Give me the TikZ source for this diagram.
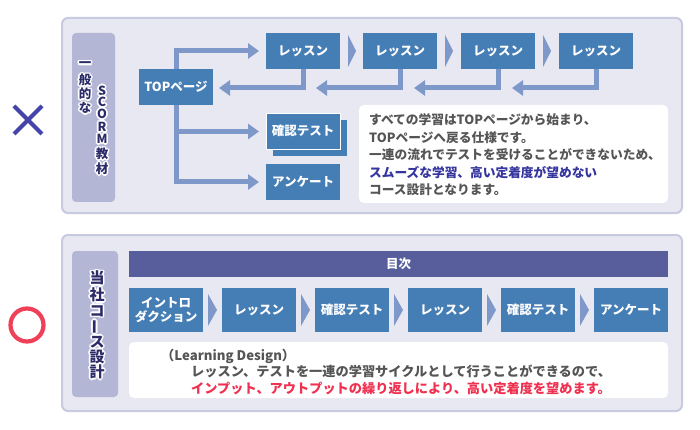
\documentclass[tikz,border=0pt]{standalone}
\usepackage{fontspec}
\newfontfamily\jp{Noto Sans CJK JP}
\usetikzlibrary{arrows.meta}
\definecolor{panelfill}{HTML}{E8E8F2}
\definecolor{panelline}{HTML}{C8CAE2}
\definecolor{stripfill}{HTML}{B4B6D6}
\definecolor{nodeblue}{HTML}{457DB5}
\definecolor{connblue}{HTML}{7D98C9}
\definecolor{barblue}{HTML}{585E9C}
\definecolor{txtgray}{HTML}{555555}
\definecolor{txtblue}{HTML}{3535A0}
\definecolor{txtred}{HTML}{F03050}
\definecolor{crossblue}{HTML}{4444AA}
\definecolor{circred}{HTML}{F04058}
\definecolor{navy}{HTML}{2B2B68}
\tikzset{
  panel/.style={fill=panelfill, draw=panelline, line width=2pt, rounded corners=6pt},
  strip/.style={fill=stripfill, rounded corners=4pt},
  whitebox/.style={fill=white, rounded corners=5pt},
  box/.style={fill=nodeblue, text=white, font=\jp\bfseries\fontsize{12.5}{15}\selectfont,
    minimum width=74pt, minimum height=36pt, inner sep=0pt, align=center},
  lowbox/.style={box, minimum height=44pt},
  conn/.style={draw=connblue, line width=5pt, -{Triangle[length=11pt,width=15pt]}},
  chev/.style={fill=connblue},
  stripfont/.style={font=\jp\bfseries\fontsize{12.5}{14}\selectfont, inner sep=0pt},
  bigstripfont/.style={font=\jp\bfseries\fontsize{15}{16}\selectfont, inner sep=0pt},
  toptxt/.style={font=\jp\bfseries\fontsize{12.7}{15}\selectfont, text=txtgray, anchor=base west, inner sep=0pt},
  bottxt/.style={font=\jp\bfseries\fontsize{13.2}{15}\selectfont, text=txtgray, anchor=base west, inner sep=0pt}
}
\newcommand\halonode[3]{%
  \foreach \hx/\hy in {-1.7/0,1.7/0,0/-1.7,0/1.7,-1.2/-1.2,1.2/1.2,-1.2/1.2,1.2/-1.2}{%
    \node[text=white,xshift=\hx pt,yshift=\hy pt,#2] at (#1) {#3};}%
  \node[text=navy,#2] at (#1) {#3};}
\begin{document}
\begin{tikzpicture}[x=1pt,y=-1pt]
\useasboundingbox (0,0) rectangle (700,430);
\fill[white] (0,0) rectangle (700,430);

% ---------- marks ----------
\draw[crossblue, line width=4pt] (14,106) -- (42,134) (14,134) -- (42,106);
\draw[circred, line width=4.2pt] (27,325) circle (16.5);

% ---------- top panel ----------
\draw[panel] (62,18) rectangle (682,213);
\fill[strip] (72,33) rectangle (115,202);
\foreach \c/\y in {一/65,般/80,的/94,な/108}{\halonode{85,\y}{stripfont}{\c}}
\foreach \c/\y in {S/91,C/102,O/114,R/127,M/139,教/154,材/169}{\halonode{102,\y}{stripfont}{\c}}

\node[box] (top) at (176,87) {TOPページ};
\node[box] (l1) at (303,51) {レッスン};
\node[box] (l2) at (400,51) {レッスン};
\node[box] (l3) at (498,51) {レッスン};
\node[box] (l4) at (596,51) {レッスン};
\node[box] (ktshadow) at (310,138) {};
\node[box, draw=white, line width=0.8pt] (kt) at (303,131) {確認テスト};
\node[box] (an) at (303,182) {アンケート};

\fill[chev] (348,35) -- (356,51) -- (348,67) -- cycle;
\fill[chev] (445,35) -- (453,51) -- (445,67) -- cycle;
\fill[chev] (543,35) -- (551,51) -- (543,67) -- cycle;

\coordinate (a1) at (259,51);
\coordinate (a2) at (259,131.5);
\coordinate (a3) at (259,182);
\coordinate (r1) at (219,88);
\coordinate (r2) at (316,88);
\coordinate (r3) at (414,88);
\coordinate (r4) at (512,88);
\draw[conn] (top.north) |- (a1);
\draw[conn] (top.south) |- (a2);
\draw[conn] (top.south) |- (a3);
\draw[conn] (l1.south) |- (r1);
\draw[conn] (l2.south) |- (r2);
\draw[conn] (l3.south) |- (r3);
\draw[conn] (l4.south) |- (r4);

\fill[whitebox] (359,105) rectangle (668,203);
\node[toptxt] (t1) at (369,124.7) {すべての学習はTOPページから始まり、};
\node[toptxt] (t2) at (369,142.2) {TOPページへ戻る仕様です。};
\node[toptxt] (t3) at (369,159.7) {一連の流れでテストを受けることができないため、};
\node[toptxt, text=txtblue] (t4) at (369,177.2) {スムーズな学習、高い定着度が望めない};
\node[toptxt] (t5) at (369,194.7) {コース設計となります。};

% ---------- bottom panel ----------
\draw[panel] (62,235) rectangle (682,411);
\fill[strip] (72,251) rectangle (118,397);
\foreach \c/\y in {当/278,社/295,コ/311,ス/342,設/357,計/372}{\halonode{97,\y}{bigstripfont}{\c}}
\halonode{97,327}{bigstripfont,rotate=90}{ー}

\node[box, fill=barblue, minimum width=539pt, minimum height=26pt] (toc) at (398.5,264) {目次};
\node[lowbox] (b1) at (166,310) {イントロ\\[-1pt]ダクション};
\node[lowbox] (b2) at (259,310) {レッスン};
\node[lowbox] (b3) at (352,310) {確認テスト};
\node[lowbox] (b4) at (445,310) {レッスン};
\node[lowbox] (b5) at (538,310) {確認テスト};
\node[lowbox] (b6) at (631,310) {アンケート};
\foreach \x in {208,301,394,487,580}{\fill[chev] (\x,294) -- (\x+9,310) -- (\x,326) -- cycle;}

\fill[whitebox] (129,342) rectangle (668,398);
\node[bottxt] (u1) at (161,360) {（Learning Design）};
\node[bottxt] (u2) at (191,376) {レッスン、テストを一連の学習サイクルとして行うことができるので、};
\node[bottxt, text=txtred] (u3) at (191,393) {インプット、アウトプットの繰り返しにより、高い定着度を望めます。};
\end{tikzpicture}
\end{document}
